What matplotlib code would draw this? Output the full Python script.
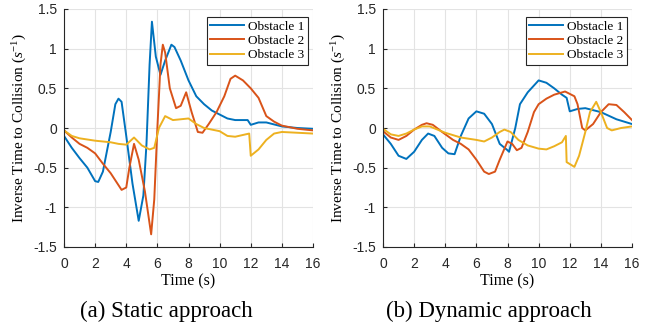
import numpy as np
import matplotlib.pyplot as plt

# Static approach (a)
t_s1 = [0, 0.5, 1, 1.5, 2, 2.2, 2.5, 3, 3.3, 3.5, 3.7, 4, 4.4, 4.8, 5.1, 5.3, 5.5, 5.65, 5.9, 6.2,
        6.5, 6.9, 7.1, 7.5, 8, 8.5, 9, 9.5, 10, 10.5, 11, 11.8, 12, 12.5, 13, 14, 15, 16]
v_s1 = [-0.1, -0.25, -0.38, -0.5, -0.67, -0.68, -0.55, -0.05, 0.3, 0.37, 0.33, -0.1, -0.7, -1.17, -0.85,
        -0.2, 0.8, 1.34, 0.9, 0.67, 0.85, 1.05, 1.02, 0.85, 0.6, 0.4, 0.3, 0.22, 0.17, 0.12, 0.1, 0.1,
        0.04, 0.07, 0.07, 0.02, 0.0, -0.01]
t_s2 = [0, 0.5, 1, 1.5, 2, 2.5, 3, 3.5, 3.7, 4, 4.2, 4.5, 4.8, 5.2, 5.6, 5.8, 6.0, 6.2, 6.35, 6.5,
        6.8, 7.2, 7.5, 7.85, 8.2, 8.6, 8.9, 9.3, 9.8, 10.3, 10.7, 11.0, 11.5, 12, 12.5, 13, 13.5, 14, 15, 16]
v_s2 = [-0.03, -0.12, -0.2, -0.25, -0.32, -0.45, -0.57, -0.72, -0.78, -0.75, -0.5, -0.2, -0.4, -0.8,
        -1.34, -0.9, 0.0, 0.8, 1.05, 0.95, 0.5, 0.25, 0.28, 0.45, 0.2, -0.05, -0.06, 0.05, 0.2, 0.4,
        0.62, 0.66, 0.6, 0.5, 0.38, 0.15, 0.08, 0.03, -0.01, -0.03]
t_s3 = [0, 0.5, 1, 2, 3, 3.5, 4, 4.5, 5, 5.5, 5.8, 6.1, 6.5, 7, 7.5, 8, 8.5, 9, 10, 10.5, 11, 11.9,
        12.0, 12.5, 13, 13.5, 14, 15, 16]
v_s3 = [-0.03, -0.1, -0.13, -0.16, -0.18, -0.2, -0.21, -0.12, -0.22, -0.27, -0.25, 0.0, 0.15, 0.1,
        0.11, 0.12, 0.05, 0.0, -0.04, -0.1, -0.11, -0.07, -0.35, -0.27, -0.15, -0.07, -0.05, -0.06, -0.07]

# Dynamic approach (b)
t_d1 = [0, 0.5, 1, 1.5, 2, 2.5, 2.9, 3.3, 3.8, 4.2, 4.6, 5, 5.5, 6, 6.5, 7, 7.5, 8, 8.1, 8.5, 8.8,
        9.3, 10, 10.5, 11, 11.5, 11.8, 12, 12.5, 13, 14, 15, 16]
v_d1 = [-0.08, -0.2, -0.35, -0.39, -0.3, -0.15, -0.07, -0.1, -0.25, -0.32, -0.33, -0.1, 0.12, 0.21,
        0.18, 0.05, -0.2, -0.28, -0.3, 0.0, 0.3, 0.45, 0.6, 0.57, 0.5, 0.42, 0.38, 0.21, 0.24, 0.25,
        0.2, 0.11, 0.05]
t_d2 = [0, 0.5, 1, 1.5, 2, 2.5, 2.8, 3.2, 3.8, 4.5, 5, 5.5, 6, 6.5, 6.8, 7.2, 7.5, 8, 8.3, 8.6, 8.9,
        9.3, 9.7, 10, 10.5, 11, 11.7, 12, 12.3, 12.5, 12.8, 13, 13.5, 14, 14.5, 15, 15.5, 16]
v_d2 = [-0.04, -0.12, -0.15, -0.1, -0.02, 0.04, 0.06, 0.04, -0.05, -0.15, -0.2, -0.27, -0.4, -0.55,
        -0.58, -0.55, -0.4, -0.17, -0.2, -0.28, -0.25, -0.05, 0.2, 0.3, 0.37, 0.42, 0.46, 0.43, 0.4,
        0.3, 0.0, -0.03, 0.05, 0.2, 0.3, 0.29, 0.2, 0.1]
t_d3 = [0, 0.5, 1, 1.5, 2, 2.5, 3, 3.5, 4, 5, 6, 6.5, 7, 7.5, 7.8, 8.2, 8.7, 9.3, 10, 10.5, 11, 11.5,
        11.75, 11.8, 12.3, 12.6, 13, 13.3, 13.7, 14, 14.4, 14.7, 15.3, 16]
v_d3 = [-0.01, -0.08, -0.1, -0.07, -0.02, 0.02, 0.02, -0.02, -0.06, -0.12, -0.15, -0.17, -0.12, -0.05,
        -0.02, -0.05, -0.15, -0.22, -0.26, -0.27, -0.23, -0.18, -0.1, -0.43, -0.49, -0.35, -0.05, 0.2,
        0.33, 0.2, 0.0, -0.03, 0.0, 0.02]

labels = ['Obstacle 1', 'Obstacle 2', 'Obstacle 3']
colors = ['#0072BD', '#D95319', '#EDB120']
captions = ['(a) Static approach', '(b) Dynamic approach']

panels = [
    [(t_s1, v_s1), (t_s2, v_s2), (t_s3, v_s3)],
    [(t_d1, v_d1), (t_d2, v_d2), (t_d3, v_d3)],
]

serif = 'Liberation Serif'
sans = 'Liberation Sans'

plt.rcParams['mathtext.fontset'] = 'custom'
plt.rcParams['mathtext.rm'] = serif
plt.rcParams['mathtext.it'] = serif + ':italic'

fig = plt.figure(figsize=(6.55, 3.3), dpi=100)
lefts = [64 / 655, 383 / 655]
width = 249 / 655
bottom = 1 - 247 / 330
height = 238 / 330
cap_x = [166 / 655, 489 / 655]

for k, series in enumerate(panels):
    ax = fig.add_axes([lefts[k], bottom, width, height])
    for (t, v), lab, c in zip(series, labels, colors):
        ax.plot(t, v, color=c, lw=1.4, label=lab)
    ax.set_xlim(0, 16)
    ax.set_ylim(-1.5, 1.5)
    ax.set_xticks(np.arange(0, 17, 2))
    ax.set_yticks([-1.5, -1, -0.5, 0, 0.5, 1, 1.5])
    ax.set_yticklabels(['-1.5', '-1', '-0.5', '0', '0.5', '1', '1.5'])
    ax.grid(True, color='#e3e3e3', lw=0.8)
    ax.set_axisbelow(True)
    for s in ['top', 'right']:
        ax.spines[s].set_visible(False)
    for s in ['left', 'bottom']:
        ax.spines[s].set_color('#262626')
        ax.spines[s].set_linewidth(0.8)
    ax.tick_params(direction='in', length=3, colors='#262626', labelsize=10)
    ax.tick_params(axis='x', pad=7)
    ax.tick_params(axis='y', pad=5)
    for lbl in ax.get_xticklabels() + ax.get_yticklabels():
        lbl.set_fontfamily(sans)
    ax.set_xlabel('Time (s)', fontfamily=serif, fontsize=11.5, labelpad=2)
    ax.set_ylabel(r'Inverse Time to Collision ($s^{-1}$)', fontfamily=serif, fontsize=11, labelpad=3)
    leg = ax.legend(loc='upper right', bbox_to_anchor=(0.98, 0.965), prop={'family': serif, 'size': 9.5},
                    fancybox=False, framealpha=1, edgecolor='#262626', borderpad=0.25,
                    handlelength=2.6, handletextpad=0.3, labelspacing=0.15, borderaxespad=0)
    leg.get_frame().set_linewidth(0.8)
    fig.text(cap_x[k], 1 - 311 / 330, captions[k], ha='center', va='center',
             fontfamily=serif, fontsize=16.5)

fig.savefig('out.png', dpi=100)
